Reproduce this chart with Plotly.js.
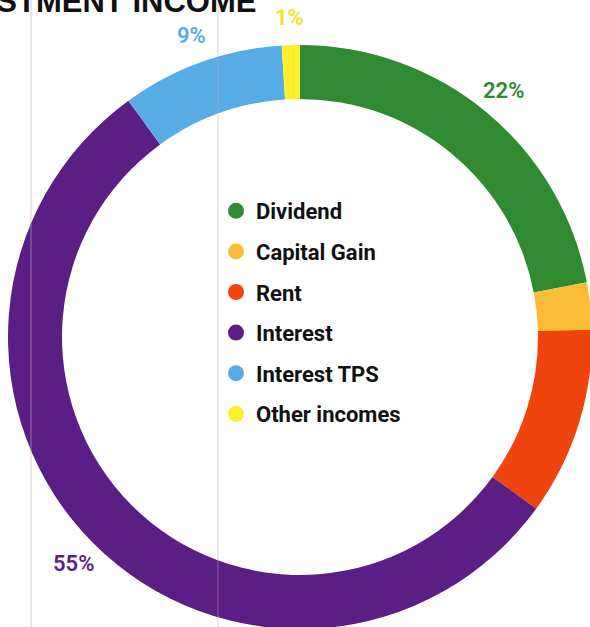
<!DOCTYPE html>
<html>
<head>
<meta charset="utf-8">
<script src="https://cdn.plot.ly/plotly-3.0.1.min.js"></script>
<style>
html,body{margin:0;padding:0;overflow:hidden;background:#fff;width:590px;height:627px;}
#chart{width:620px;height:660px;}
</style>
</head>
<body>
<div id="chart"></div>
<script>
// ---- data ----
const categories = ["Dividend", "Capital Gain", "Rent", "Interest", "Interest TPS", "Other incomes"];
const values = [22, 2.6, 10.4, 55, 9, 1];
const pctLabels = ["22%", "", "", "55%", "9%", "1%"];
const colors = ["#2f8a32", "#fbbd38", "#f0440f", "#5b1e84", "#58ace6", "#fdf02a"];
const labelColors = ["#2f8a32", "", "", "#5b1e84", "#58ace6", "#f3e21c"];
const titleText = "INVESTMENT INCOME";

// ---- layout constants ----
const W = 620, H = 660;
const M = {l: 8, r: 28, t: 45, b: 31};
const plotW = W - M.l - M.r; // 584
const plotH = H - M.t - M.b; // 584
const labelR = 320; // px from centre

const traces = [{
  type: "pie",
  values: values,
  labels: categories,
  sort: false,
  direction: "clockwise",
  rotation: 0,
  hole: 0.815,
  marker: {colors: colors, line: {width: 0}},
  textinfo: "none",
  hoverinfo: "label+percent",
  showlegend: false,
  domain: {x: [0, 1], y: [0, 1]}
}];

// legend entries with round markers
categories.forEach((c, i) => {
  traces.push({
    type: "scatter",
    mode: "markers",
    x: [null], y: [null],
    name: c,
    legendgroup: "g" + i,
    marker: {color: colors[i], size: 18, symbol: "circle"},
    showlegend: true,
    hoverinfo: "skip"
  });
});

// percentage labels at slice mid-angles
const total = values.reduce((a, b) => a + b, 0);
const annotations = [];
let cum = 0;
values.forEach((v, i) => {
  const mid = (cum + v / 2) / total * 2 * Math.PI;
  cum += v;
  if (!pctLabels[i]) return;
  annotations.push({
    xref: "paper", yref: "paper",
    x: 0.5 + labelR / plotW * Math.sin(mid),
    y: 0.5 + labelR / plotH * Math.cos(mid),
    text: pctLabels[i],
    showarrow: false,
    xanchor: "center", yanchor: "middle",
    font: {family: "Roboto", size: 22, weight: 600, color: labelColors[i]}
  });
});

// cropped title
annotations.push({
  xref: "paper", yref: "paper",
  x: (258 - M.l) / plotW, y: 1 + 24 / plotH,
  xanchor: "right", yanchor: "bottom",
  text: titleText,
  showarrow: false,
  font: {family: "Liberation Sans", size: 31, weight: 900, color: "#111"}
});

const layout = {
  width: W, height: H,
  margin: M,
  paper_bgcolor: "#fff",
  plot_bgcolor: "#fff",
  xaxis: {visible: false},
  yaxis: {visible: false},
  showlegend: true,
  legend: {
    x: (216 - M.l) / plotW, y: 1 - (190 - M.t) / plotH,
    xanchor: "left", yanchor: "top",
    bgcolor: "rgba(0,0,0,0)",
    font: {family: "Roboto", size: 22, weight: 700, color: "#111"},
    tracegroupgap: 9,
    itemsizing: "trace"
  },
  annotations: annotations,
  shapes: [
    {type: "line", xref: "paper", yref: "paper", x0: (31 - M.l) / plotW, x1: (31 - M.l) / plotW, y0: -0.1, y1: 1.2, line: {color: "rgba(200,165,185,0.6)", width: 1}, layer: "above"},
    {type: "line", xref: "paper", yref: "paper", x0: (218 - M.l) / plotW, x1: (218 - M.l) / plotW, y0: -0.1, y1: 1.2, line: {color: "rgba(200,165,185,0.5)", width: 1}, layer: "above"}
  ]
};

Plotly.newPlot("chart", traces, layout, {displayModeBar: false, staticPlot: true});
</script>
</body>
</html>
